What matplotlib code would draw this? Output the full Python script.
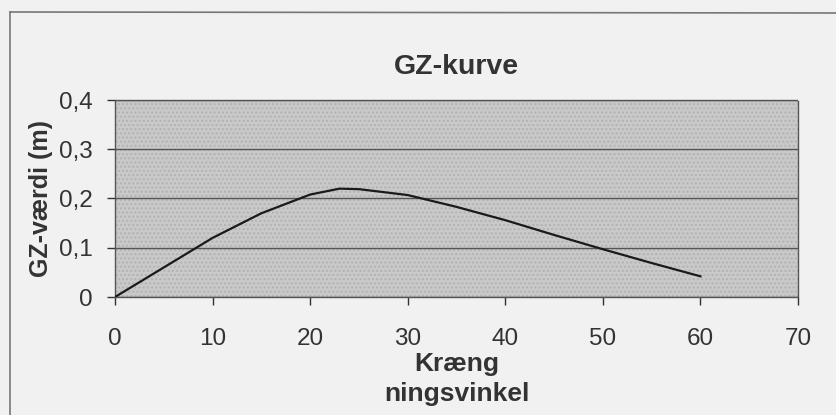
import matplotlib.pyplot as plt
from matplotlib.lines import Line2D

# krængningsvinkel (grader) og GZ-værdi (m), aflæst fra kurven
vinkel = [0, 5, 10, 15, 20, 23, 25, 30, 35, 40, 45, 50, 55, 60]
gz = [0.0, 0.060, 0.120, 0.170, 0.208, 0.220, 0.219, 0.207, 0.183, 0.156, 0.126, 0.097, 0.069, 0.042]

x_ticks = [0, 10, 20, 30, 40, 50, 60, 70]
y_ticks = [0, 0.1, 0.2, 0.3, 0.4]
y_labels = ["0", "0,1", "0,2", "0,3", "0,4"]

plt.rcParams['font.family'] = ['Liberation Sans', 'DejaVu Sans']

fig = plt.figure(figsize=(8.36, 4.15), dpi=100)
fig.patch.set_facecolor('#f1f1f1')

# chart frame from the scan
fig.add_artist(Line2D([10 / 836, 10 / 836], [0, 1 - 12 / 415], color='#777777', lw=1.2))
fig.add_artist(Line2D([10 / 836, 1], [1 - 12 / 415, 1 - 13 / 415], color='#777777', lw=1.2))

ax = fig.add_axes([115 / 836, 1 - 297 / 415, 683 / 836, 197 / 415])
ax.set_facecolor('#c9c9c9')
ax.patch.set_hatch('....')
ax.patch.set_edgecolor('#b2b2b2')

ax.plot(vinkel, gz, color='#1a1a1a', lw=1.6, zorder=3)

ax.set_xlim(0, 70)
ax.set_ylim(0, 0.4)
ax.set_xticks(x_ticks)
ax.set_yticks(y_ticks)
ax.set_yticklabels(y_labels)
ax.grid(axis='y', color='#555555', lw=1.0)
ax.set_axisbelow(True)

for s in ax.spines.values():
    s.set_color('#555555')
    s.set_linewidth(1.0)
    s.set_linestyle((0, (1, 1)))

ax.tick_params(axis='both', labelsize=17.5, colors='#333333', length=6, width=1)
ax.tick_params(axis='x', pad=16)
ax.tick_params(axis='y', pad=10)

ax.set_title("GZ-kurve", fontsize=20.5, fontweight='bold', color='#333333', pad=19)
ax.set_xlabel("Kræng\nningsvinkel", fontsize=19, fontweight='bold', color='#333333',
              labelpad=2, linespacing=1.3)
ax.set_ylabel("GZ-værdi (m)", fontsize=18, fontweight='bold', color='#333333', labelpad=4)

fig.savefig("out.png", dpi=100, facecolor=fig.get_facecolor())
